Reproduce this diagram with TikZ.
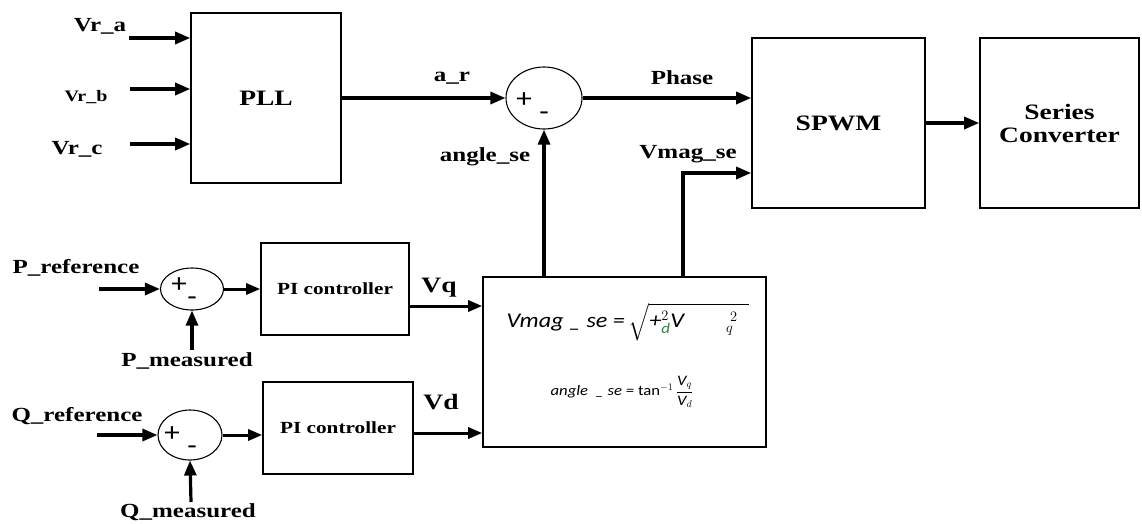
\documentclass[tikz,border=0pt]{standalone}
\usepackage{amsmath}
\usepackage{fontspec}
\setmainfont{Liberation Serif}
\newfontfamily\lbl[FakeStretch=1.25]{Liberation Serif}
\newfontfamily\formfont[FakeStretch=1.15]{Carlito}
\usetikzlibrary{arrows.meta,shapes.geometric}
\definecolor{subgreen}{RGB}{40,140,60}
\begin{document}
\begin{tikzpicture}[x=1pt,y=-1pt,
  blk/.style={draw, line width=1.6pt, inner sep=0pt, align=center,
    font=\lbl\bfseries\fontsize{22}{25}\selectfont},
  pib/.style={draw, line width=1.6pt, inner sep=0pt, minimum width=148pt, minimum height=92pt,
    font=\lbl\bfseries\fontsize{17}{20}\selectfont},
  sumn/.style={draw, ellipse, line width=1.1pt, inner sep=0pt},
  lab/.style={font=\lbl\bfseries\fontsize{20}{22}\selectfont, inner sep=0pt},
  sgn/.style={font=\formfont\fontsize{27}{28}\selectfont, inner sep=0pt},
  arr/.style={line width=3.2pt, -{Triangle[length=15pt,width=12pt]}},
  arrs/.style={line width=3pt, -{Triangle[length=14pt,width=11pt]}}
]
\useasboundingbox (0,0) rectangle (1142,523);

% blocks
\node[blk, minimum width=150pt, minimum height=170pt] (PLL) at (266,98) {PLL};
\node[blk, minimum width=173pt, minimum height=170pt] (SPWM) at (838.5,123) {SPWM};
\node[blk, minimum width=159pt, minimum height=170pt] (SC) at (1059.5,123) {Series\\[-2pt]Converter};
\node[draw, line width=1.6pt, minimum width=283pt, minimum height=170pt] (form) at (624.5,362) {};
\node[pib] (PI1) at (335,289) {PI controller};
\node[pib, minimum width=150pt] (PI2) at (338,428) {PI controller};

% summing junctions
\node[sumn, minimum width=76pt, minimum height=62pt] (sT) at (544,98) {};
\node[sumn, minimum width=63pt, minimum height=42pt] (sP) at (192,289) {};
\node[sumn, minimum width=64pt, minimum height=50pt] (sQ) at (190,435) {};
\node[sgn] (sTp) at (524,100) {+};
\node[sgn] (sTm) at (544,116) {-};
\node[sgn] (sPp) at (179,285) {+};
\node[sgn] (sPm) at (192,301) {-};
\node[sgn] (sQp) at (172,434) {+};
\node[sgn] (sQm) at (192,450) {-};

% formula texts
\node[inner sep=0pt, font=\formfont\itshape\fontsize{21}{23}\selectfont] (f1) at (628,322)
  {Vmag \_ se =\,$\sqrt{\text{+}^{2}_{\text{\color{subgreen}d}}\text{V}\qquad{}^{\;2}_{q}\;\;}$};
\node[inner sep=0pt, font=\formfont\itshape\fontsize{14.5}{16}\selectfont] (f2) at (622,392)
  {angle \ \_ se = {\upshape tan$^{-1}$}$\,\dfrac{\text{V}_{q}}{\text{V}_{d}}$};

% labels
\node[lab] (la) at (100,26) {Vr\_a};
\node[lab, font=\lbl\bfseries\fontsize{16}{18}\selectfont] (lb) at (86,97) {Vr\_b};
\node[lab] (lc) at (77,149) {Vr\_c};
\node[lab] (lar) at (452,78) {a\_r};
\node[lab] (lph) at (682,78) {Phase};
\node[lab] (lang) at (485,157) {angle\_se};
\node[lab] (lvm) at (688,154) {Vmag\_se};
\node[lab] (lpr) at (76,268) {P\_reference};
\node[lab] (lpm) at (187,361) {P\_measured};
\node[lab] (lqr) at (77,416) {Q\_reference};
\node[lab] (lqm) at (188,512) {Q\_measured};
\node[lab, font=\lbl\bfseries\fontsize{22}{24}\selectfont] (lvq) at (439,288) {Vq};
\node[lab, font=\lbl\bfseries\fontsize{22}{24}\selectfont] (lvd) at (441,402) {Vd};

% free ends
\coordinate (ia) at (129,38);
\coordinate (ib) at (130,89);
\coordinate (ic) at (130,144);
\coordinate (vm) at (683,173);
\coordinate (pr) at (99,289);
\coordinate (pm) at (192,350);
\coordinate (qr) at (97,435);
\coordinate (qm) at (191,502);
\coordinate (vqy) at (409,306);
\coordinate (vdy) at (413,433);

% connectors
\draw[arr] (ia) -- (ia -| PLL.west);
\draw[arr] (ib) -- (ib -| PLL.west);
\draw[arr] (ic) -- (ic -| PLL.west);
\draw[arr] (PLL.east) -- (sT.west);
\draw[arr] (sT.east) -- (sT.east -| SPWM.west);
\draw[arr] (sT.south |- form.north) -- (sT.south);
\draw[arr] (vm |- form.north) |- (vm -| SPWM.west);
\draw[arr] (SPWM.east) -- (SC.west);
\draw[arr] (pr) -- (sP.west);
\draw[arrs] (sP.east) -- (PI1.west);
\draw[arr] (pm) -- (sP.south);
\draw[arrs] (PI1.east |- vqy) -- (vqy -| form.west);
\draw[arr] (qr) -- (sQ.west);
\draw[arrs] (sQ.east) -- (sQ.east -| PI2.west);
\draw[arr] (qm) -- (sQ.south);
\draw[arrs] (PI2.east |- vdy) -- (vdy -| form.west);
\end{tikzpicture}
\end{document}
